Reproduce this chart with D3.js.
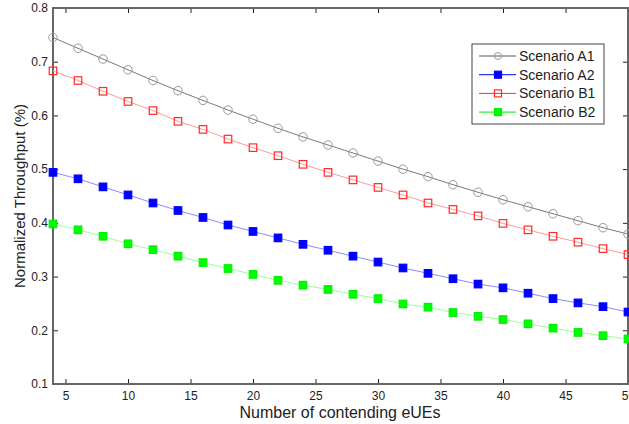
<!DOCTYPE html>
<html>
<head>
<meta charset="utf-8">
<script src="https://cdn.jsdelivr.net/npm/d3@7"></script>
<style>
    body { margin: 0; background: #ffffff; }
    svg { display: block; font-family: "Liberation Sans", Arial, sans-serif; }
</style>
</head>
<body>
<div id="chart"></div>
<script>
// данные графика
var xValues = [4, 6, 8, 10, 12, 14, 16, 18, 20, 22, 24, 26, 28, 30, 32, 34, 36, 38, 40, 42, 44, 46, 48, 50];
var scenarioA1 = [0.745, 0.725, 0.705, 0.685, 0.665, 0.646, 0.628, 0.610, 0.593, 0.576, 0.560, 0.545,
    0.530, 0.515, 0.500, 0.486, 0.471, 0.457, 0.443, 0.430, 0.417, 0.404, 0.391, 0.379];
var scenarioA2 = [0.494, 0.482, 0.467, 0.452, 0.437, 0.423, 0.410, 0.396, 0.384, 0.372, 0.360, 0.349,
    0.338, 0.327, 0.316, 0.306, 0.296, 0.286, 0.279, 0.269, 0.259, 0.251, 0.244, 0.234];
var scenarioB1 = [0.683, 0.665, 0.645, 0.626, 0.609, 0.589, 0.574, 0.556, 0.540, 0.525, 0.509, 0.494,
    0.480, 0.466, 0.452, 0.437, 0.425, 0.413, 0.399, 0.387, 0.375, 0.364, 0.352, 0.341];
var scenarioB2 = [0.398, 0.387, 0.375, 0.361, 0.350, 0.338, 0.326, 0.315, 0.304, 0.293, 0.284, 0.276,
    0.267, 0.259, 0.249, 0.243, 0.233, 0.226, 0.220, 0.212, 0.204, 0.196, 0.190, 0.184];
var seriesNames = ["Scenario A1", "Scenario A2", "Scenario B1", "Scenario B2"];
var xTicks = [5, 10, 15, 20, 25, 30, 35, 40, 45, 50];
var yTicks = [0.1, 0.2, 0.3, 0.4, 0.5, 0.6, 0.7, 0.8];

var width = 629,
    height = 424,
    margin = {top: 8, right: 1, bottom: 40, left: 53};

// стиль каждой серии: маркер, цвет линии, цвет маркера
var styles = [
    {shape: "circle", line: "#7a7a7a", stroke: "#9a9a9a", fill: "none", legendLine: "#555555"},
    {shape: "square", line: "#8c8cff", stroke: "#0000ff", fill: "#0000ff", legendLine: "#0000ff"},
    {shape: "square", line: "#ff9a9a", stroke: "#ff2a2a", fill: "none", legendLine: "#ff2a2a"},
    {shape: "square", line: "#9aff9a", stroke: "#00ee00", fill: "#00ff00", legendLine: "#00ee00"}
];

var series = [scenarioA1, scenarioA2, scenarioB1, scenarioB2].map(function (values, i) {
    return {
        name: seriesNames[i],
        style: styles[i],
        points: values.map(function (v, j) { return {x: xValues[j], y: v}; })
    };
});

var svg = d3.select("#chart").append("svg")
    .attr("width", width)
    .attr("height", height);

var x = d3.scaleLinear().domain([4, 50]).range([margin.left, width - margin.right]);
var y = d3.scaleLinear().domain([0.1, 0.8]).range([height - margin.bottom, margin.top]);

var axisColor = "#666666",
    textColor = "#222222";

// оси: тики направлены внутрь области графика
function styleAxis(g) {
    g.select(".domain").remove();
    g.selectAll(".tick line").attr("stroke", "#222").attr("stroke-width", 1);
    g.selectAll(".tick text").attr("fill", textColor).style("font-size", "12px");
}

svg.append("g")
    .attr("transform", "translate(0," + y.range()[0] + ")")
    .call(d3.axisBottom(x).tickValues(xTicks).tickSizeInner(-5).tickSizeOuter(0).tickPadding(7)
        .tickFormat(d3.format("d")))
    .call(styleAxis);

svg.append("g")
    .attr("transform", "translate(0," + y.range()[1] + ")")
    .call(d3.axisTop(x).tickValues(xTicks).tickSizeInner(-5).tickSizeOuter(0).tickFormat(""))
    .call(styleAxis);

svg.append("g")
    .attr("transform", "translate(" + x.range()[0] + ",0)")
    .call(d3.axisLeft(y).tickValues(yTicks).tickSizeInner(-5).tickSizeOuter(0).tickPadding(5)
        .tickFormat(d3.format(".1f")))
    .call(styleAxis);

svg.append("g")
    .attr("transform", "translate(" + x.range()[1] + ",0)")
    .call(d3.axisRight(y).tickValues(yTicks).tickSizeInner(-5).tickSizeOuter(0).tickFormat(""))
    .call(styleAxis);

// рамка вокруг области графика
svg.append("rect")
    .attr("x", x.range()[0])
    .attr("y", y.range()[1])
    .attr("width", x.range()[1] - x.range()[0])
    .attr("height", y.range()[0] - y.range()[1])
    .attr("fill", "none")
    .attr("stroke", axisColor)
    .attr("stroke-width", 2);

var line = d3.line()
    .x(function (d) { return x(d.x); })
    .y(function (d) { return y(d.y); });

function drawMarker(sel, style, cx, cy, size) {
    if (style.shape === "circle") {
        sel.append("circle")
            .attr("cx", cx).attr("cy", cy).attr("r", size / 2)
            .attr("fill", style.fill).attr("stroke", style.stroke).attr("stroke-width", 1);
    } else {
        sel.append("rect")
            .attr("x", cx - size / 2).attr("y", cy - size / 2)
            .attr("width", size).attr("height", size)
            .attr("fill", style.fill).attr("stroke", style.stroke).attr("stroke-width", 1.2);
    }
}

series.forEach(function (s) {
    var g = svg.append("g");
    g.append("path")
        .datum(s.points)
        .attr("fill", "none")
        .attr("stroke", s.style.line)
        .attr("stroke-width", 1)
        .attr("d", line);
    s.points.forEach(function (p) {
        drawMarker(g, s.style, x(p.x), y(p.y), s.style.shape === "circle" ? 8.5 : 7.5);
    });
});

// легенда
var legend = svg.append("g").attr("transform", "translate(472,44)");
legend.append("rect")
    .attr("width", 132)
    .attr("height", 80)
    .attr("fill", "#ffffff")
    .attr("stroke", "#444")
    .attr("stroke-width", 1);

series.forEach(function (s, i) {
    var row = legend.append("g").attr("transform", "translate(0," + (12 + i * 18.7) + ")");
    row.append("line")
        .attr("x1", 7).attr("x2", 44)
        .attr("stroke", s.style.legendLine)
        .attr("stroke-width", 1);
    drawMarker(row, s.style, 26, 0, 7);
    row.append("text")
        .attr("x", 47)
        .attr("y", 0)
        .attr("dy", "0.35em")
        .attr("fill", textColor)
        .style("font-size", "14px")
        .text(s.name);
});

// подписи осей
svg.append("text")
    .attr("x", 340)
    .attr("y", 418)
    .attr("text-anchor", "middle")
    .attr("fill", textColor)
    .style("font-size", "16px")
    .text("Number of contending eUEs");

svg.append("text")
    .attr("transform", "translate(25," + ((y.range()[0] + y.range()[1]) / 2) + ") rotate(-90)")
    .attr("text-anchor", "middle")
    .attr("fill", textColor)
    .style("font-size", "15px")
    .text("Normalized Throughput (%)");
</script>
</body>
</html>
